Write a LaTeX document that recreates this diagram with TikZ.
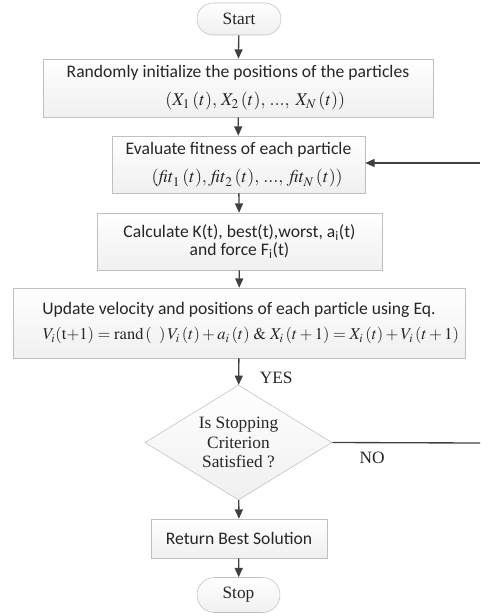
\documentclass[tikz,border=0pt]{standalone}
\usepackage{mathptmx}
\usepackage{fontspec}
\setmainfont{Liberation Serif}
\newfontfamily\boxfont{Carlito}
\usetikzlibrary{shapes.geometric,shapes.misc,arrows.meta}

\def\px{0.75pt}
\newcommand{\mathbig}{\fontsize{13.5}{16}\selectfont}
\newcommand{\mathsmall}{\fontsize{12.4}{15}\selectfont}

\tikzset{
  stepbox/.style={draw=gray!50, top color=white, bottom color=gray!12,
    inner sep=0pt, align=center, text=black!85,
    font=\boxfont\fontsize{13.2}{14}\selectfont},
  termbox/.style={rounded rectangle, draw=gray!50, top color=white, bottom color=gray!12,
    inner sep=0pt, text=black!85, font=\fontsize{13}{15}\selectfont},
  testbox/.style={diamond, aspect=1.63, draw=gray!50, top color=white, bottom color=gray!12,
    inner sep=0pt, align=center, text=black!85, font=\fontsize{13}{14.6}\selectfont},
  arr/.style={draw=black!75, line width=1pt, -{Triangle[length=7pt,width=6pt]}},
  flow/.style={draw=black!75, line width=1pt},
  tag/.style={text=black!85, font=\fontsize{13}{15}\selectfont}
}

\begin{document}
\begin{tikzpicture}[x=\px,y=-\px]

  % Page
  \useasboundingbox (0,0) rectangle (480,615);

  % Terminals and steps
  \node[termbox, minimum width=84*\px, minimum height=32*\px] (start) at (239,19) {Start};

  \node[stepbox, minimum width=390*\px, minimum height=58*\px] (init) at (238,88)
    {Randomly initialize the positions of the particles\\[7pt]
     \hspace*{26pt}{\mathbig$(X_1\,(t),\,X_2\,(t),\,...,\;X_N\,(t))$}};

  \node[stepbox, minimum width=253*\px, minimum height=57*\px] (evalfit) at (238.5,164.5)
    {Evaluate fitness of each particle\\[7pt]
     \hspace*{13pt}{\mathbig$(\mathit{fit}_1\,(t),\,\mathit{fit}_2\,(t),\,...,\;\mathit{fit}_N\,(t))$}};

  \node[stepbox, minimum width=285*\px, minimum height=57*\px] (calc) at (239.5,241.5)
    {Calculate K(t), best(t),worst, a\textsubscript{i}(t)\\
     and force F\textsubscript{i}(t)};

  \node[stepbox, minimum width=452*\px, minimum height=70*\px] (update) at (239,323)
    {Update velocity and positions of each particle using Eq.\\[5pt]
     \hspace*{18pt}{\mathsmall$V_i(\mathrm{t{+}1})=\mathrm{rand}\left(\;\;\right)V_i\,(t)+a_i\,(t)\ \mathrm{\&}\ X_i\,(t+1)=X_i\,(t)+V_i\,(t+1)$}};

  \node[testbox, minimum width=187*\px, minimum height=115*\px] (check) at (238.5,442.5)
    {Is Stopping\\Criterion\\Satisfied ?};

  \node[stepbox, minimum width=176*\px, minimum height=39*\px] (best) at (239,538.5)
    {Return Best Solution};

  \node[termbox, minimum width=83*\px, minimum height=35*\px] (stop) at (238.5,595) {Stop};

  % Loop ends at the page edge
  \coordinate (noend) at (480,443);
  \coordinate (backin) at (480,163);

  % Arrows
  \draw[arr] (start) -- (init);
  \draw[arr] (init) -- (evalfit);
  \draw[arr] (evalfit) -- (calc);
  \draw[arr] (calc) -- (update);
  \draw[arr] (update) -- node[tag, pos=0.72, right=12pt] {YES} (check);
  \draw[arr] (check) -- (best);
  \draw[arr] (best) -- (stop);
  \draw[flow] (check.east) -- node[tag, pos=0.27, below=3pt] {NO} (noend);
  \draw[arr] (backin) -- (backin -| evalfit.east);

\end{tikzpicture}
\end{document}
